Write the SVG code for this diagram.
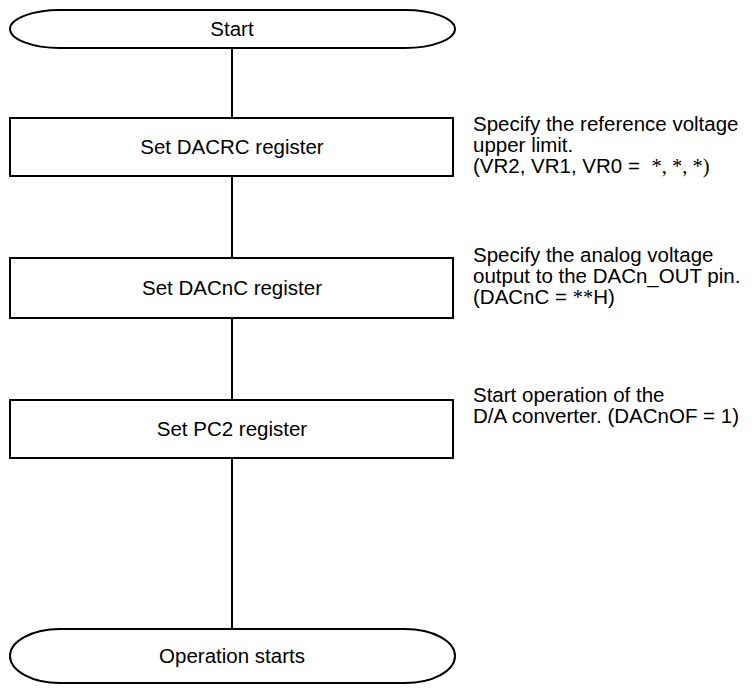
<svg xmlns="http://www.w3.org/2000/svg" width="755" height="690" viewBox="0 0 755 690">
<style>
.s{fill:#fff;stroke:#000;stroke-width:2}
.c{fill:none;stroke:#000;stroke-width:2}
text{font-family:"Liberation Sans",Arial,sans-serif;font-size:20.5px;fill:#000}
.m{text-anchor:middle}
.sf{font-family:"Liberation Serif","Times New Roman",serif}
</style>
<rect width="755" height="690" fill="#fff"/>
<g id="connectors">
<line class="c" x1="232" y1="48" x2="232" y2="118"/>
<line class="c" x1="232" y1="176" x2="232" y2="258"/>
<line class="c" x1="232" y1="318" x2="232" y2="400"/>
<line class="c" x1="232" y1="458" x2="232" y2="629"/>
</g>
<g id="start">
<path class="s" d="M60,10 H405 A50,19 0 0 1 405,48 H60 A50,19 0 0 1 60,10 Z"/>
<text class="m" x="232" y="36">Start</text>
</g>
<g id="set-dacrc">
<rect class="s" x="10" y="118" width="443" height="58"/>
<text class="m" x="232" y="154">Set DACRC register</text>
</g>
<g id="set-dacnc">
<rect class="s" x="10" y="258" width="443" height="60"/>
<text class="m" x="232" y="295">Set DACnC register</text>
</g>
<g id="set-pc2">
<rect class="s" x="10" y="400" width="443" height="58"/>
<text class="m" x="232" y="436">Set PC2 register</text>
</g>
<g id="end">
<path class="s" d="M60,629 H405 A50,27 0 0 1 405,683 H60 A50,27 0 0 1 60,629 Z"/>
<text class="m" x="232" y="663">Operation starts</text>
</g>
<g id="notes">
<text x="473" y="131">Specify the reference voltage</text>
<text x="473" y="152">upper limit.</text>
<text x="473" y="173">(VR2, VR1, VR0 = <tspan class="sf" dx="6">*, *, *)</tspan></text>
<text x="473" y="262">Specify the analog voltage</text>
<text x="473" y="283">output to the DACn_OUT pin.</text>
<text x="473" y="304">(DACnC = <tspan class="sf">**</tspan>H)</text>
<text x="473" y="402">Start operation of the</text>
<text x="473" y="423">D/A converter. (DACnOF = 1)</text>
</g>
</svg>
